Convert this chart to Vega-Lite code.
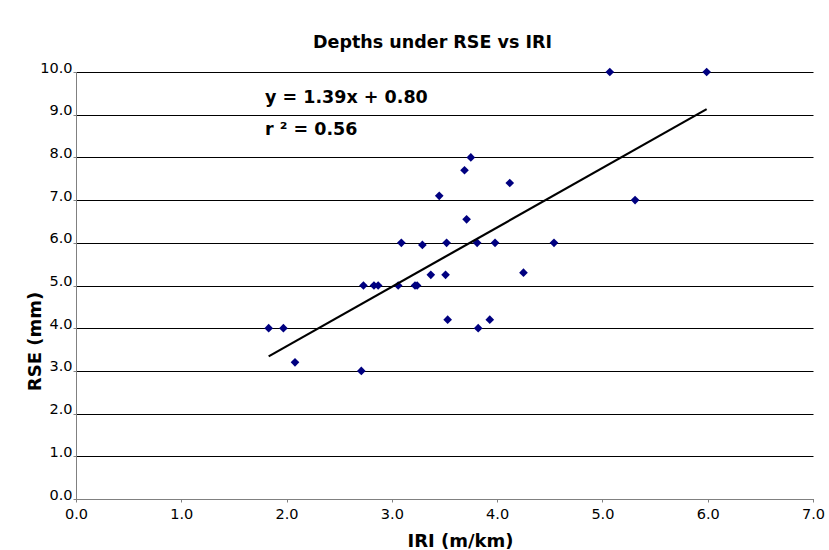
{
  "$schema": "https://vega.github.io/schema/vega-lite/v6.json",
  "autosize": {"type": "none"},
  "padding": {"left": 76, "top": 72, "right": 16, "bottom": 51},
  "width": 737,
  "height": 427,
  "background": "white",
  "config": {
    "view": {"stroke": null},
    "font": "DejaVu Sans"
  },
  "title": {
    "text": "Depths under RSE vs IRI",
    "font": "DejaVu Sans",
    "fontSize": 17.5,
    "fontWeight": "bold",
    "color": "black",
    "anchor": "middle",
    "baseline": "alphabetic",
    "dx": -12,
    "dy": 21,
    "offset": 16
  },
  "datasets": {
    "points": [
      {"IRI": 1.83, "RSE": 4.0},
      {"IRI": 1.97, "RSE": 4.0},
      {"IRI": 2.08, "RSE": 3.2},
      {"IRI": 2.71, "RSE": 3.0},
      {"IRI": 2.73, "RSE": 5.0},
      {"IRI": 2.83, "RSE": 5.0},
      {"IRI": 2.87, "RSE": 5.0},
      {"IRI": 3.06, "RSE": 5.0},
      {"IRI": 3.22, "RSE": 5.0},
      {"IRI": 3.24, "RSE": 5.0},
      {"IRI": 3.09, "RSE": 6.0},
      {"IRI": 3.29, "RSE": 5.95},
      {"IRI": 3.37, "RSE": 5.25},
      {"IRI": 3.51, "RSE": 5.25},
      {"IRI": 3.52, "RSE": 6.0},
      {"IRI": 3.53, "RSE": 4.2},
      {"IRI": 3.45, "RSE": 7.1},
      {"IRI": 3.69, "RSE": 7.7},
      {"IRI": 3.75, "RSE": 8.0},
      {"IRI": 3.71, "RSE": 6.55},
      {"IRI": 3.81, "RSE": 6.0},
      {"IRI": 3.82, "RSE": 4.0},
      {"IRI": 3.93, "RSE": 4.2},
      {"IRI": 3.98, "RSE": 6.0},
      {"IRI": 4.12, "RSE": 7.4},
      {"IRI": 4.25, "RSE": 5.3},
      {"IRI": 4.54, "RSE": 6.0},
      {"IRI": 5.07, "RSE": 10.0},
      {"IRI": 5.31, "RSE": 7.0},
      {"IRI": 5.99, "RSE": 10.0}
    ],
    "trend": [
      {"IRI": 1.83, "RSE": 3.34},
      {"IRI": 5.99, "RSE": 9.13}
    ],
    "notes": [
      {"label": "y = 1.39x + 0.80", "IRI": 1.795, "RSE": 9.28},
      {"label": "r ² = 0.56", "IRI": 1.795, "RSE": 8.52}
    ]
  },
  "layer": [
    {
      "data": {"name": "points"},
      "mark": {"type": "point", "shape": "diamond", "filled": true, "size": 75, "color": "#000080", "opacity": 1},
      "encoding": {
        "x": {
          "field": "IRI", "type": "quantitative",
          "scale": {"domain": [0, 7], "nice": false, "zero": true},
          "axis": {
            "title": "IRI (m/km)",
            "values": [0, 1, 2, 3, 4, 5, 6, 7],
            "format": ".1f",
            "grid": false,
            "domainColor": "#808080",
            "tickColor": "#808080",
            "tickSize": 3,
            "labelPadding": 5,
            "labelFont": "DejaVu Sans",
            "labelFontSize": 14.5,
            "labelColor": "black",
            "labelFlush": false,
            "titleFont": "DejaVu Sans",
            "titleFontSize": 18,
            "titleFontWeight": "bold",
            "titleColor": "black",
            "titleAlign": "center",
            "titleBaseline": "alphabetic",
            "titleX": 384,
            "titleY": 47
          }
        },
        "y": {
          "field": "RSE", "type": "quantitative",
          "scale": {"domain": [0, 10], "nice": false, "zero": true},
          "axis": {
            "title": "RSE (mm)",
            "values": [0, 1, 2, 3, 4, 5, 6, 7, 8, 9, 10],
            "format": ".1f",
            "grid": true,
            "gridColor": "black",
            "gridWidth": 1,
            "gridOpacity": 1,
            "domainColor": "#808080",
            "tickColor": "#808080",
            "tickSize": 3,
            "labelPadding": 1,
            "labelBaseline": "alphabetic",
            "labelFont": "DejaVu Sans",
            "labelFontSize": 14.5,
            "labelColor": "black",
            "labelFlush": false,
            "titleFont": "DejaVu Sans",
            "titleFontSize": 18,
            "titleFontWeight": "bold",
            "titleColor": "black",
            "titleAngle": -90,
            "titleAlign": "center",
            "titleBaseline": "middle",
            "titleX": -41,
            "titleY": 269
          }
        }
      }
    },
    {
      "data": {"name": "trend"},
      "mark": {"type": "line", "color": "black", "strokeWidth": 2.2},
      "encoding": {
        "x": {"field": "IRI", "type": "quantitative"},
        "y": {"field": "RSE", "type": "quantitative"}
      }
    },
    {
      "data": {"name": "notes"},
      "mark": {"type": "text", "align": "left", "baseline": "alphabetic", "font": "DejaVu Sans", "fontSize": 17.5, "fontWeight": "bold", "color": "black"},
      "encoding": {
        "x": {"field": "IRI", "type": "quantitative"},
        "y": {"field": "RSE", "type": "quantitative"},
        "text": {"field": "label"}
      }
    }
  ]
}
